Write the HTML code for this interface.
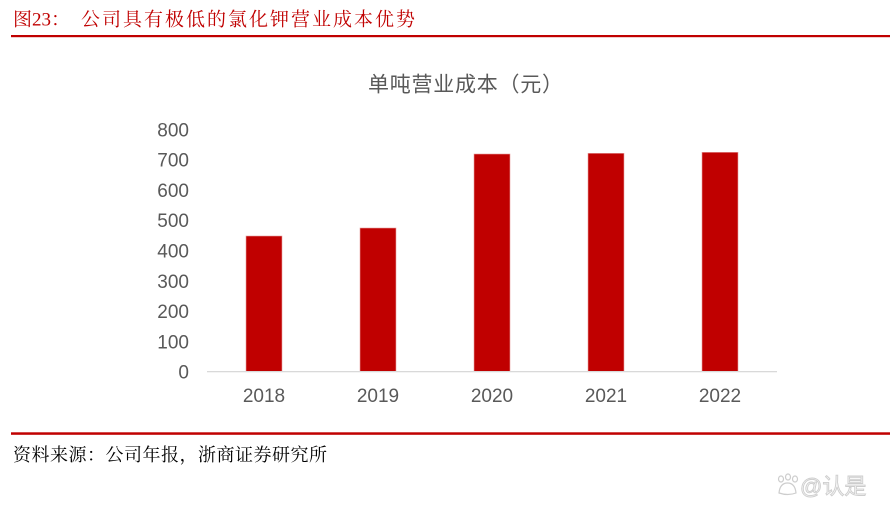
<!DOCTYPE html>
<html>
<head>
<meta charset="utf-8">
<style>
  html,body{margin:0;padding:0;background:#fff;}
  svg{display:block;}
</style>
</head>
<body>
<svg width="890" height="518" viewBox="0 0 890 518" xmlns="http://www.w3.org/2000/svg">
  <rect x="0" y="0" width="890" height="518" fill="#fff"/>

  <!-- Header -->
  <text x="13" y="25.5" font-family="'Liberation Serif','Noto Serif CJK SC',serif" font-size="19" fill="#c00000">图23：</text>
  <text x="81" y="25.5" font-family="'Liberation Serif','Noto Serif CJK SC',serif" font-size="19" fill="#c00000" textLength="334" lengthAdjust="spacing">公司具有极低的氯化钾营业成本优势</text>
  <rect x="11" y="35" width="879" height="2.2" fill="#c00000"/>

  <!-- Chart title -->
  <text x="368" y="91.5" font-family="'Liberation Sans','Noto Sans CJK SC',sans-serif" font-size="21" fill="#595959" textLength="195" lengthAdjust="spacing">单吨营业成本（元）</text>

  <!-- Y axis labels -->
  <g font-family="'Liberation Sans','Noto Sans CJK SC',sans-serif" font-size="19" fill="#595959" text-anchor="end">
    <text x="189" y="136.3">800</text>
    <text x="189" y="166.6">700</text>
    <text x="189" y="196.9">600</text>
    <text x="189" y="227.2">500</text>
    <text x="189" y="257.5">400</text>
    <text x="189" y="287.8">300</text>
    <text x="189" y="318.1">200</text>
    <text x="189" y="348.4">100</text>
    <text x="189" y="378.7">0</text>
  </g>

  <!-- Bars -->
  <g fill="#c00000" stroke="#e8a0a0" stroke-width="0.6">
    <rect x="246" y="236" width="36" height="135.5"/>
    <rect x="360" y="228" width="36" height="143.5"/>
    <rect x="474" y="154" width="36" height="217.5"/>
    <rect x="588" y="153.3" width="36" height="218.2"/>
    <rect x="702" y="152.3" width="36" height="219.2"/>
  </g>

  <!-- Axis line -->
  <rect x="207" y="371" width="570" height="1.3" fill="#d9d9d9"/>

  <!-- X labels -->
  <g font-family="'Liberation Sans','Noto Sans CJK SC',sans-serif" font-size="19" fill="#595959" text-anchor="middle">
    <text x="264" y="402">2018</text>
    <text x="378" y="402">2019</text>
    <text x="492" y="402">2020</text>
    <text x="606" y="402">2021</text>
    <text x="720" y="402">2022</text>
  </g>

  <!-- Footer -->
  <rect x="11" y="432.3" width="879" height="2.5" fill="#c00000"/>
  <text x="13" y="461" font-family="'Liberation Serif','Noto Serif CJK SC',serif" font-size="18" fill="#000" textLength="314" lengthAdjust="spacing">资料来源：公司年报，浙商证券研究所</text>

  <!-- Watermark -->
  <g opacity="0.75">
    <g fill="none" stroke="#bdbdbd" stroke-width="1.2">
      <ellipse cx="781" cy="479" rx="2.5" ry="3"/>
      <ellipse cx="788" cy="477" rx="2.5" ry="3"/>
      <ellipse cx="795" cy="479" rx="2.5" ry="3"/>
      <path d="M779 493 Q780 483 787.5 483 Q795 483 796 493 Q788 496 779 493 Z"/>
    </g>
    <text x="800" y="494" font-family="'Liberation Sans','Noto Sans CJK SC',sans-serif" font-size="22" fill="#f4f4f4" stroke="#bdbdbd" stroke-width="0.9">@认是</text>
  </g>
</svg>
</body>
</html>
